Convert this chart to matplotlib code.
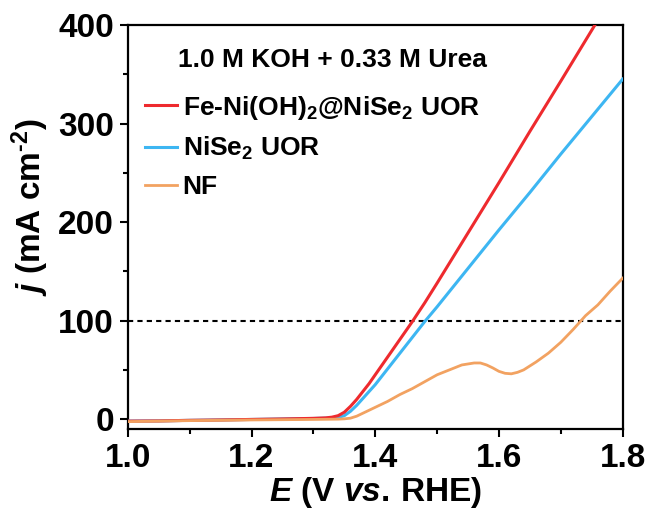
import matplotlib
matplotlib.use("Agg")
import matplotlib.pyplot as plt
from matplotlib.ticker import MultipleLocator

plt.rcParams['font.family'] = ['Liberation Sans', 'DejaVu Sans']
plt.rcParams['font.weight'] = 'bold'
plt.rcParams['axes.labelweight'] = 'bold'
plt.rcParams['mathtext.fontset'] = 'custom'
plt.rcParams['mathtext.rm'] = 'Liberation Sans:bold'
plt.rcParams['mathtext.bf'] = 'Liberation Sans:bold'
plt.rcParams['mathtext.it'] = 'Liberation Sans:bold:italic'
plt.rcParams['mathtext.default'] = 'rm'

# ---- data ----
E_red = [1.00, 1.05, 1.10, 1.15, 1.20, 1.25, 1.30, 1.32, 1.33, 1.34, 1.35, 1.36,
         1.37, 1.38, 1.39, 1.40, 1.42, 1.44, 1.46, 1.48, 1.50, 1.55, 1.60, 1.65,
         1.70, 1.76]
j_red = [-2.0, -1.8, -1.2, -0.8, -0.3, 0.2, 0.8, 1.3, 2.0, 3.5, 7, 13,
         20, 28, 36, 45, 63, 81, 99, 118, 138, 189, 240, 292,
         343, 405]

E_blue = [1.00, 1.05, 1.10, 1.15, 1.20, 1.25, 1.30, 1.33, 1.34, 1.35, 1.36, 1.37,
          1.38, 1.39, 1.40, 1.42, 1.44, 1.46, 1.48, 1.50, 1.55, 1.60, 1.65, 1.70,
          1.75, 1.80]
j_blue = [-2.0, -1.8, -1.2, -0.8, -0.3, 0.2, 0.7, 1.2, 1.8, 3.5, 8, 14,
          21, 28, 35, 51, 67, 83, 99, 114, 153, 192, 230, 269,
          307, 345]

E_nf = [1.00, 1.10, 1.20, 1.30, 1.34, 1.35, 1.36, 1.37, 1.38, 1.39, 1.40, 1.42,
        1.44, 1.46, 1.48, 1.50, 1.52, 1.54, 1.56, 1.57, 1.58, 1.59, 1.60, 1.61,
        1.62, 1.63, 1.64, 1.66, 1.68, 1.70, 1.72, 1.73, 1.74, 1.76, 1.78, 1.80]
j_nf = [-2.5, -1.5, -0.8, -0.3, 0.0, 0.3, 1.0, 3.0, 6.0, 9.0, 12, 18,
        25, 31, 38, 45, 50, 55, 57, 57, 55, 52, 48.5, 46.5,
        46, 47.5, 50, 58, 67, 78, 91, 98, 105, 116, 130, 143]

labels = [r"Fe-Ni(OH)$_2$@NiSe$_2$ UOR", r"NiSe$_2$ UOR", "NF"]
colors = ["#EE2A2E", "#3DB6F2", "#F2A261"]
ref_j = 100
note = "1.0 M KOH + 0.33 M Urea"

# ---- figure ----
fig = plt.figure(figsize=(6.52, 5.20), dpi=100)
ax = fig.add_axes([0.196, 0.175, 0.759, 0.777])

l_red, = ax.plot(E_red, j_red, color=colors[0], lw=2.2, zorder=4, label=labels[0])
l_blue, = ax.plot(E_blue, j_blue, color=colors[1], lw=2.2, zorder=3, label=labels[1])
l_nf, = ax.plot(E_nf, j_nf, color=colors[2], lw=2.0, zorder=5, label=labels[2])
ax.axhline(ref_j, color='black', lw=1.5, ls=(0, (2.5, 2)), zorder=2)

ax.set_xlim(1.0, 1.8)
ax.set_ylim(-10, 400)
ax.xaxis.set_major_locator(MultipleLocator(0.2))
ax.xaxis.set_minor_locator(MultipleLocator(0.1))
ax.yaxis.set_major_locator(MultipleLocator(100))
ax.yaxis.set_minor_locator(MultipleLocator(50))
ax.xaxis.set_major_formatter(matplotlib.ticker.FormatStrFormatter('%.1f'))

for s in ax.spines.values():
    s.set_linewidth(1.6)
ax.tick_params(which='major', direction='out', length=6, width=1.5, labelsize=24, pad=4)
ax.tick_params(which='minor', direction='out', length=3.5, width=1.5)

ax.set_xlabel(r"$\mathit{E}$ (V $\mathit{vs.}\,$RHE)", fontsize=24,
              fontweight='bold', labelpad=1)
ax.set_ylabel(r"$\mathit{j}$ (mA cm$^{\text{-2}}$)", fontsize=24,
              fontweight='bold')
ax.yaxis.set_label_coords(-0.155, 0.55)

ax.text(0.101, 0.896, note, transform=ax.transAxes, fontsize=19,
        fontweight='bold', va='baseline', ha='left')

leg = ax.legend(handles=[l_red, l_blue, l_nf], loc='upper left',
                bbox_to_anchor=(0.035, 0.83), frameon=False,
                prop={'size': 19, 'weight': 'bold'},
                handlelength=1.2, handletextpad=0.22, labelspacing=0.5,
                borderaxespad=0, borderpad=0)

fig.savefig("out.png", dpi=100)
